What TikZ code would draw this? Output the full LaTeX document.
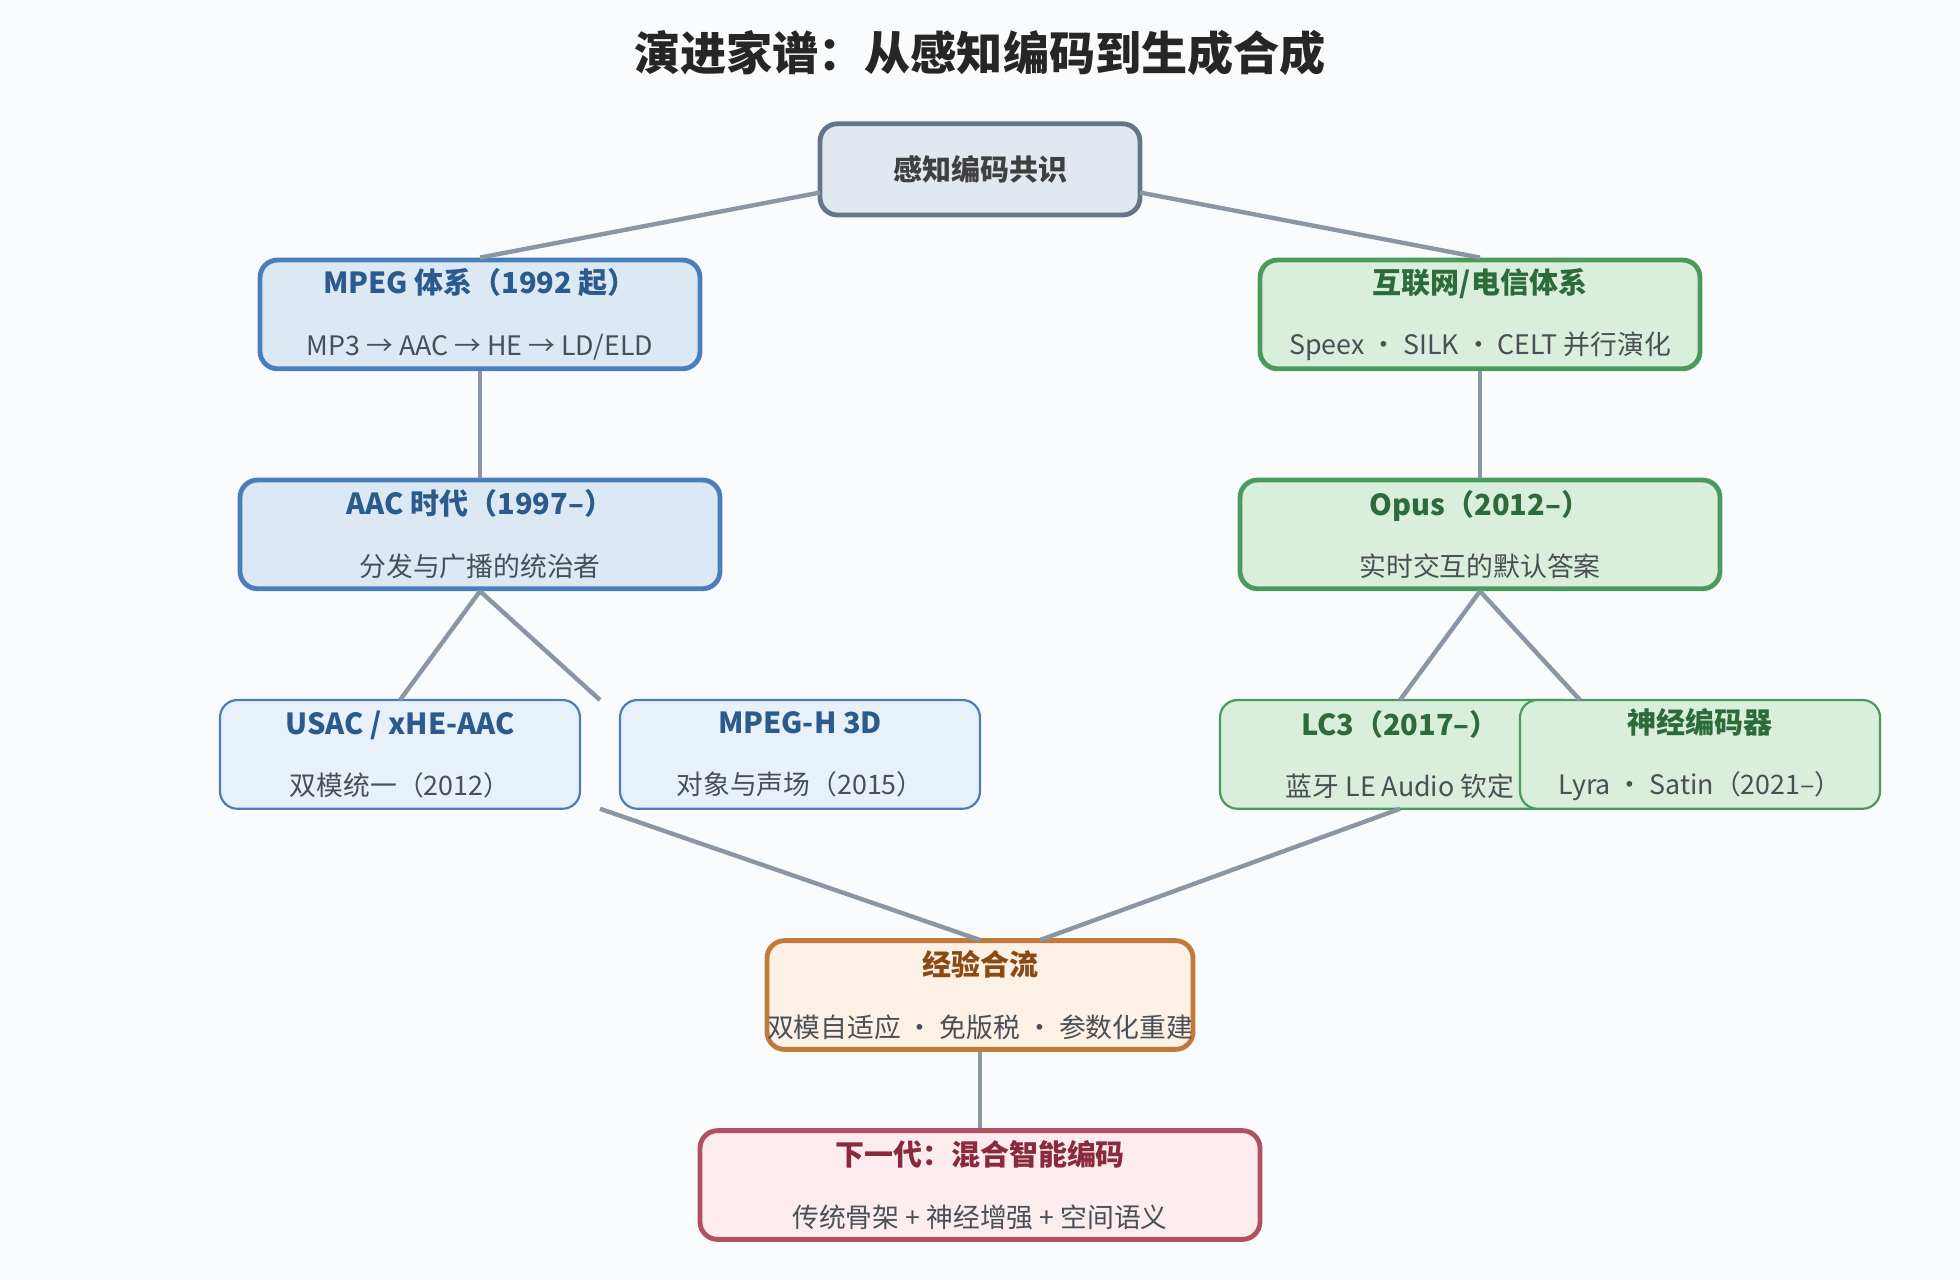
\documentclass[tikz,border=0pt]{standalone}
\usepackage{fontspec}
\setmainfont{Noto Sans CJK SC}
\usetikzlibrary{positioning}

\definecolor{bgc}{HTML}{FAFBFD}
\definecolor{edgec}{HTML}{8A96A3}
\definecolor{rootf}{HTML}{E2E8F0}\definecolor{rootd}{HTML}{64748B}
\definecolor{bluef}{HTML}{DCE8F4}\definecolor{blued}{HTML}{4A7EBB}\definecolor{bluet}{HTML}{2B5A8C}
\definecolor{lbluef}{HTML}{E8F0FA}
\definecolor{greenf}{HTML}{D9EEDB}\definecolor{greend}{HTML}{4A9A5C}\definecolor{greent}{HTML}{2E6B3A}
\definecolor{orangef}{HTML}{FDF0E4}\definecolor{oranged}{HTML}{C07A3A}\definecolor{oranget}{HTML}{8A4A14}
\definecolor{pinkf}{HTML}{FCECEE}\definecolor{pinkd}{HTML}{B05060}\definecolor{pinkt}{HTML}{8A2A3A}
\definecolor{subt}{HTML}{4A4F57}

\newcommand{\ttl}[1]{{\fontsize{6.6}{8}\selectfont\bfseries #1}}
\newcommand{\sbt}[1]{{\fontsize{6.1}{8}\selectfont\color{subt}#1}}

\tikzset{
  box/.style={rectangle, rounded corners=0.14cm, align=center, inner sep=0pt},
  big/.style={box, line width=1.1pt, minimum height=0.87cm},
  small/.style={box, line width=0.5pt, minimum width=2.88cm, minimum height=0.87cm},
  link/.style={edgec, line width=1pt},
}

\begin{document}
\begin{tikzpicture}
    \fill[bgc] (0,0) rectangle (15.68,-10.24);
    \useasboundingbox (0,0) rectangle (15.68,-10.24);

    \node (title) at (7.84,-0.42) {\fontsize{10.5}{12}\selectfont\bfseries\color{black!85} 演进家谱：从感知编码到生成合成};

    % Root
    \node[big, fill=rootf, draw=rootd, minimum width=2.56cm, minimum height=0.73cm] (root) at (7.84,-1.355)
        {\ttl{\color{black!75}感知编码共识}};

    % Two families
    \node[big, fill=bluef, draw=blued, minimum width=3.52cm] (mpeg) at (3.84,-2.515)
        {\ttl{\color{bluet}MPEG 体系（1992 起）}\\[2pt]\sbt{MP3 → AAC → HE → LD/ELD}};
    \node[big, fill=greenf, draw=greend, minimum width=3.52cm] (inet) at (11.84,-2.515)
        {\ttl{\color{greent}互联网/电信体系}\\[2pt]\sbt{Speex · SILK · CELT 并行演化}};

    \node[big, fill=bluef, draw=blued, minimum width=3.84cm] (aac) at (3.84,-4.275)
        {\ttl{\color{bluet}AAC 时代（1997–）}\\[2pt]\sbt{分发与广播的统治者}};
    \node[big, fill=greenf, draw=greend, minimum width=3.84cm] (opus) at (11.84,-4.275)
        {\ttl{\color{greent}Opus（2012–）}\\[2pt]\sbt{实时交互的默认答案}};

    % Leaves
    \node[small, fill=lbluef, draw=blued] (usac) at (3.20,-6.035)
        {\ttl{\color{bluet}USAC / xHE-AAC}\\[2pt]\sbt{双模统一（2012）}};
    \node[small, fill=lbluef, draw=blued] (mpegh) at (6.40,-6.035)
        {\ttl{\color{bluet}MPEG-H 3D}\\[2pt]\sbt{对象与声场（2015）}};
    \node[small, fill=greenf, draw=greend] (lc3) at (11.20,-6.035)
        {\ttl{\color{greent}LC3（2017–）}\\[2pt]\sbt{蓝牙 LE Audio 钦定}};
    \node[small, fill=greenf, draw=greend] (neural) at (13.60,-6.035)
        {\ttl{\color{greent}神经编码器}\\[2pt]\sbt{Lyra · Satin（2021–）}};

    % Merge
    \node[big, fill=orangef, draw=oranged, minimum width=3.20cm] (fuse) at (7.84,-7.96)
        {\ttl{\color{oranget}经验合流}\\[2pt]\sbt{双模自适应 · 免版税 · 参数化重建}};
    \node[big, fill=pinkf, draw=pinkd, minimum width=4.48cm] (next) at (7.84,-9.48)
        {\ttl{\color{pinkt}下一代：混合智能编码}\\[2pt]\sbt{传统骨架 + 神经增强 + 空间语义}};

    % Free ends
    \coordinate (rl) at (6.56,-1.54);
    \coordinate (rr) at (9.12,-1.54);
    \coordinate (gapa) at (4.80,-5.60);
    \coordinate (gapb) at (4.80,-6.47);
    \coordinate (lcb) at (11.20,-6.47);
    \coordinate (fl) at (7.84,-7.52);
    \coordinate (fr) at (8.32,-7.52);
    \coordinate (lct) at (11.20,-5.60);
    \coordinate (nt) at (12.64,-5.60);
    \coordinate (ut) at (3.20,-5.60);

    % Connectors
    \draw[link] (rl) -- (mpeg.north);
    \draw[link] (rr) -- (inet.north);
    \draw[link] (mpeg.south) -- (aac.north);
    \draw[link] (inet.south) -- (opus.north);
    \draw[link] (aac.south) -- (ut);
    \draw[link] (aac.south) -- (gapa);
    \draw[link] (opus.south) -- (lct);
    \draw[link] (opus.south) -- (nt);
    \draw[link] (gapb) -- (fl);
    \draw[link] (lcb) -- (fr);
    \draw[link] (fuse.south) -- (next.north);
\end{tikzpicture}
\end{document}
